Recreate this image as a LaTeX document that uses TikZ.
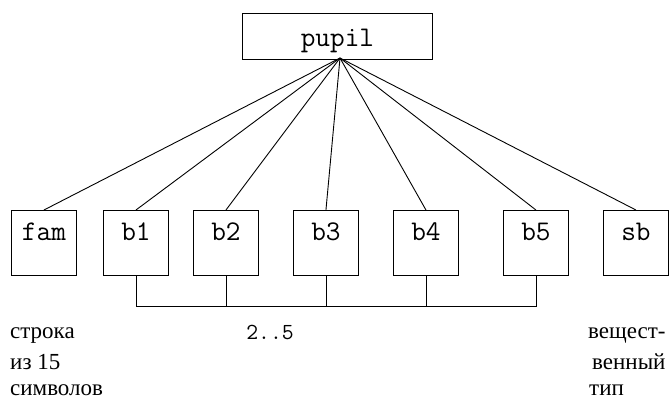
\documentclass[tikz,border=0pt]{standalone}
\usepackage{fontspec}
\setmainfont{Liberation Serif}
\begin{document}
\begin{tikzpicture}[x=1pt,y=-1pt,
  box/.style={draw,line width=0.9pt,inner sep=0pt,anchor=north west},
  lbl/.style={font=\fontsize{28.5}{28.5}\selectfont\ttfamily},
  cyr/.style={font=\fontsize{23}{23}\selectfont,anchor=base west,inner sep=0pt},
  ln/.style={line width=0.9pt}]
\useasboundingbox (0,0) rectangle (671,400);
\node[box,minimum width=190pt,minimum height=46pt] (pupil) at (242,13) {};
\node[lbl,anchor=base] at ([yshift=-10pt]pupil.center) {pupil};
\coordinate (apex) at (340,58);
\foreach \n/\x/\t in {fam/11/fam,b1/103/b1,b2/193/b2,b3/293/b3,b4/393/b4,b5/503/b5,sb/603/sb}{
  \node[box,minimum width=65pt,minimum height=65pt] (\n) at (\x,210) {};
  \node[lbl,anchor=base] at ([yshift=-30pt]\n.north) {\t};
  \draw[ln] (apex) -- (\n.north);
}
\coordinate (bus) at (0,306);
\draw[ln] (b1.south) -- (b1.south |- bus) -- (b5.south |- bus) -- (b5.south);
\foreach \n in {b2,b3,b4}{\draw[ln] (\n.south) -- (\n.south |- bus);}
\node[font=\fontsize{23}{23}\selectfont\ttfamily,anchor=base,inner sep=0pt] (rng) at (270,339) {2..5};
\node[cyr] (c1) at (10,338) {строка};
\node[cyr] (c2) at (10,369) {из 15};
\node[cyr] (c3) at (10,395) {символов};
\node[cyr] (d1) at (588,338) {вещест-};
\node[cyr] (d2) at (592,369) {венный};
\node[cyr] (d3) at (589,395) {тип};
\end{tikzpicture}
\end{document}
